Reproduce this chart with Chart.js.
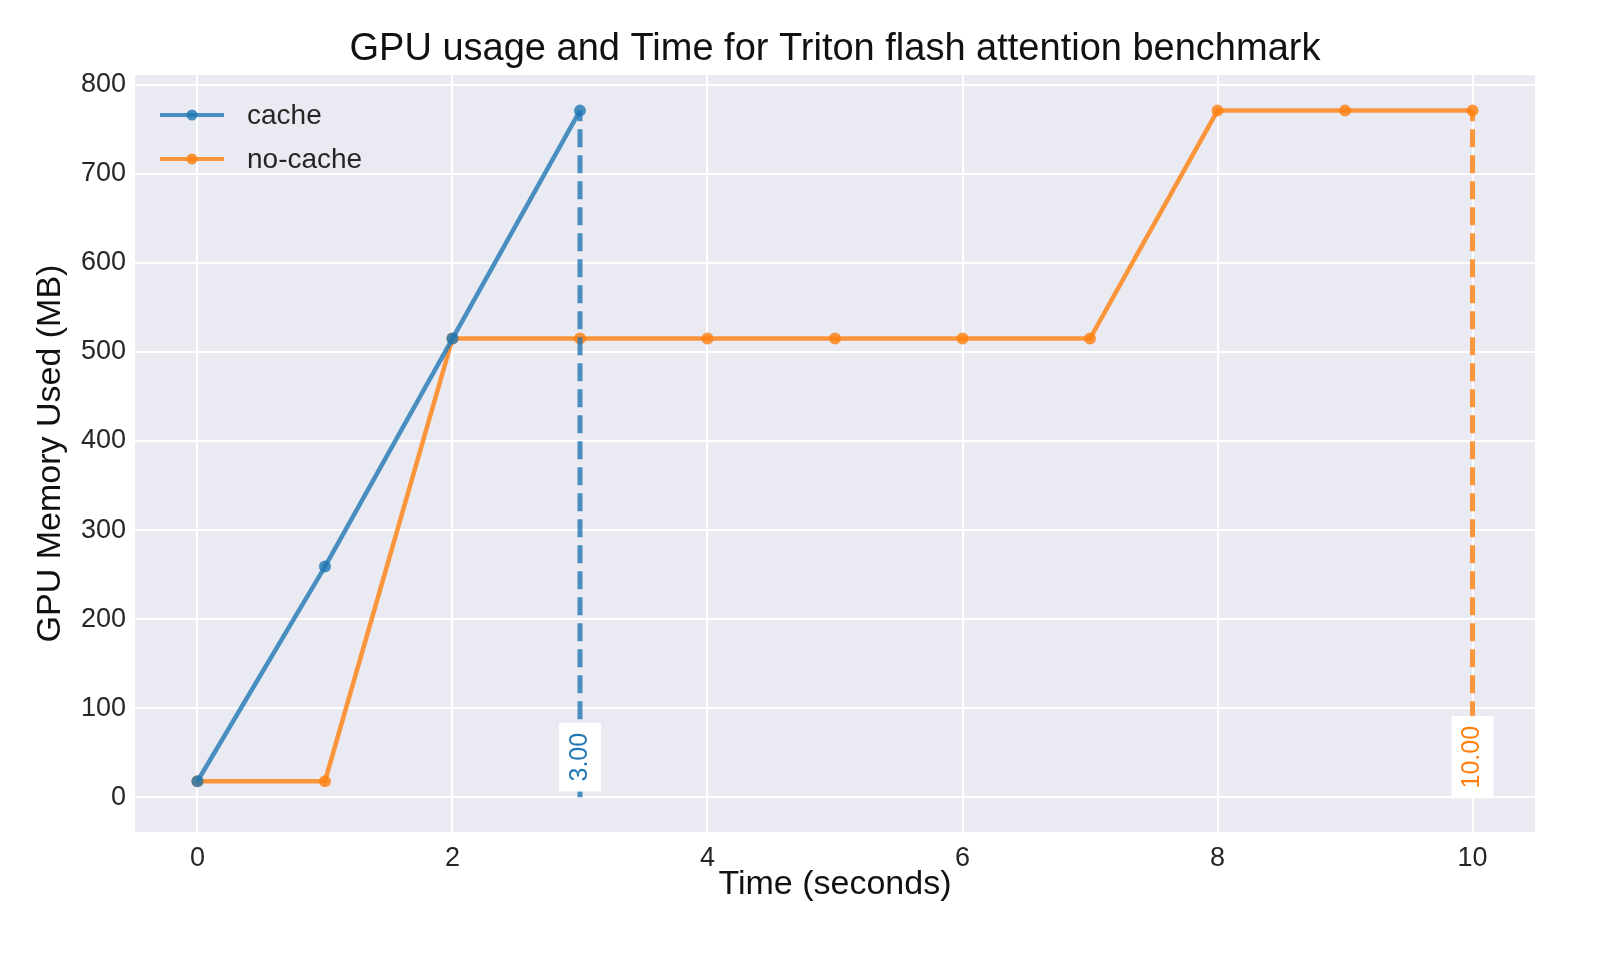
<!DOCTYPE html>
<html>
<head>
<meta charset="utf-8">
<script src="https://cdn.jsdelivr.net/npm/chart.js@4/dist/chart.umd.min.js"></script>
<style>
  body { margin: 0; background: #fff; }
  #wrap { width: 1600px; height: 960px; }
</style>
</head>
<body>
<div id="wrap"><canvas id="c" width="1600" height="960"></canvas></div>
<script>
// datos
const timeCache = [0, 1, 2, 3];
const memCache = [18, 259, 515, 771];
const timeNoCache = [0, 1, 2, 3, 4, 5, 6, 7, 8, 9, 10];
const memNoCache = [18, 18, 515, 515, 515, 515, 515, 515, 771, 771, 771];
const endTimes = [3, 10];
const endLabels = ['3.00', '10.00'];
const xTicks = [0, 2, 4, 6, 8, 10];
const yTicks = [0, 100, 200, 300, 400, 500, 600, 700, 800];

const blue = 'rgba(31,119,180,0.8)';
const orange = 'rgba(255,127,14,0.8)';
const font = '"Liberation Sans", Arial, sans-serif';

const toXY = (xs, ys) => xs.map((x, i) => ({ x, y: ys[i] }));

// fondo, título, líneas finales y leyenda
const extras = {
  id: 'extras',
  beforeDraw(chart) {
    const { ctx, chartArea: a } = chart;
    ctx.save();
    ctx.fillStyle = '#EAEAF2';
    ctx.fillRect(a.left, a.top, a.right - a.left, a.bottom - a.top);
    ctx.restore();
  },
  afterDatasetsDraw(chart) {
    const { ctx, scales: { x, y } } = chart;
    const cols = [blue, orange];
    const txt = ['#1f77b4', '#ff7f0e'];
    ctx.save();
    endTimes.forEach((t, i) => {
      const px = x.getPixelForValue(t);
      ctx.strokeStyle = cols[i];
      ctx.lineWidth = 5;
      ctx.setLineDash([18, 8]);
      ctx.beginPath();
      ctx.moveTo(px, y.getPixelForValue(0));
      ctx.lineTo(px, y.getPixelForValue(771));
      ctx.stroke();
      ctx.setLineDash([]);
      // etiqueta rotada
      const cy = y.getPixelForValue(45);
      ctx.font = '25px ' + font;
      const w = ctx.measureText(endLabels[i]).width;
      ctx.fillStyle = '#fff';
      ctx.fillRect(px - 21, cy - w / 2 - 10, 42, w + 20);
      ctx.translate(px, cy);
      ctx.rotate(-Math.PI / 2);
      ctx.fillStyle = txt[i];
      ctx.textAlign = 'center';
      ctx.textBaseline = 'middle';
      ctx.fillText(endLabels[i], 0, 0);
      ctx.setTransform(1, 0, 0, 1, 0, 0);
    });
    // leyenda
    ctx.textAlign = 'left';
    chart.data.datasets.forEach((ds, i) => {
      const ly = 115 + i * 44;
      ctx.strokeStyle = ds.borderColor;
      ctx.lineWidth = 4;
      ctx.beginPath();
      ctx.moveTo(160, ly);
      ctx.lineTo(224, ly);
      ctx.stroke();
      ctx.fillStyle = ds.borderColor;
      ctx.beginPath();
      ctx.arc(192, ly, 5.5, 0, Math.PI * 2);
      ctx.fill();
      ctx.fillStyle = '#262626';
      ctx.font = '28px ' + font;
      ctx.textBaseline = 'middle';
      ctx.fillText(ds.label, 247, ly + 1);
    });
    // título
    ctx.font = '38px ' + font;
    ctx.fillStyle = '#111';
    ctx.textAlign = 'center';
    ctx.textBaseline = 'middle';
    ctx.fillText('GPU usage and Time for Triton flash attention benchmark', 835, 50);
    ctx.restore();
  }
};

new Chart(document.getElementById('c'), {
  type: 'line',
  data: {
    datasets: [
      { label: 'cache', data: toXY(timeCache, memCache), borderColor: blue, backgroundColor: blue,
        borderWidth: 4.5, pointRadius: 6, pointBackgroundColor: blue, pointBorderWidth: 0 },
      { label: 'no-cache', data: toXY(timeNoCache, memNoCache), borderColor: orange, backgroundColor: orange,
        borderWidth: 4.5, pointRadius: 6, pointBackgroundColor: orange, pointBorderWidth: 0 }
    ]
  },
  options: {
    responsive: false,
    animation: false,
    layout: { padding: { top: 75, right: 65, left: 30, bottom: 55 } },
    plugins: { legend: { display: false }, tooltip: { enabled: false } },
    scales: {
      x: {
        type: 'linear', min: -0.49, max: 10.49,
        afterBuildTicks: s => { s.ticks = xTicks.map(v => ({ value: v })); },
        afterFit: s => { s.height = 73; },
        grid: { color: '#fff', lineWidth: 2, drawTicks: false },
        border: { display: false },
        ticks: { color: '#262626', font: { size: 27, family: font }, padding: 10 },
        title: { display: true, text: 'Time (seconds)', color: '#111', font: { size: 34, family: font }, padding: 0 }
      },
      y: {
        min: -39, max: 811,
        afterBuildTicks: s => { s.ticks = yTicks.map(v => ({ value: v })); },
        afterFit: s => { s.width = 105; },
        grid: { color: '#fff', lineWidth: 2, drawTicks: false },
        border: { display: false },
        ticks: { color: '#262626', font: { size: 27, family: font }, padding: 9 },
        title: { display: true, text: 'GPU Memory Used (MB)', color: '#111', font: { size: 34, family: font }, padding: 0 }
      }
    }
  },
  plugins: [extras]
});
</script>
</body>
</html>
